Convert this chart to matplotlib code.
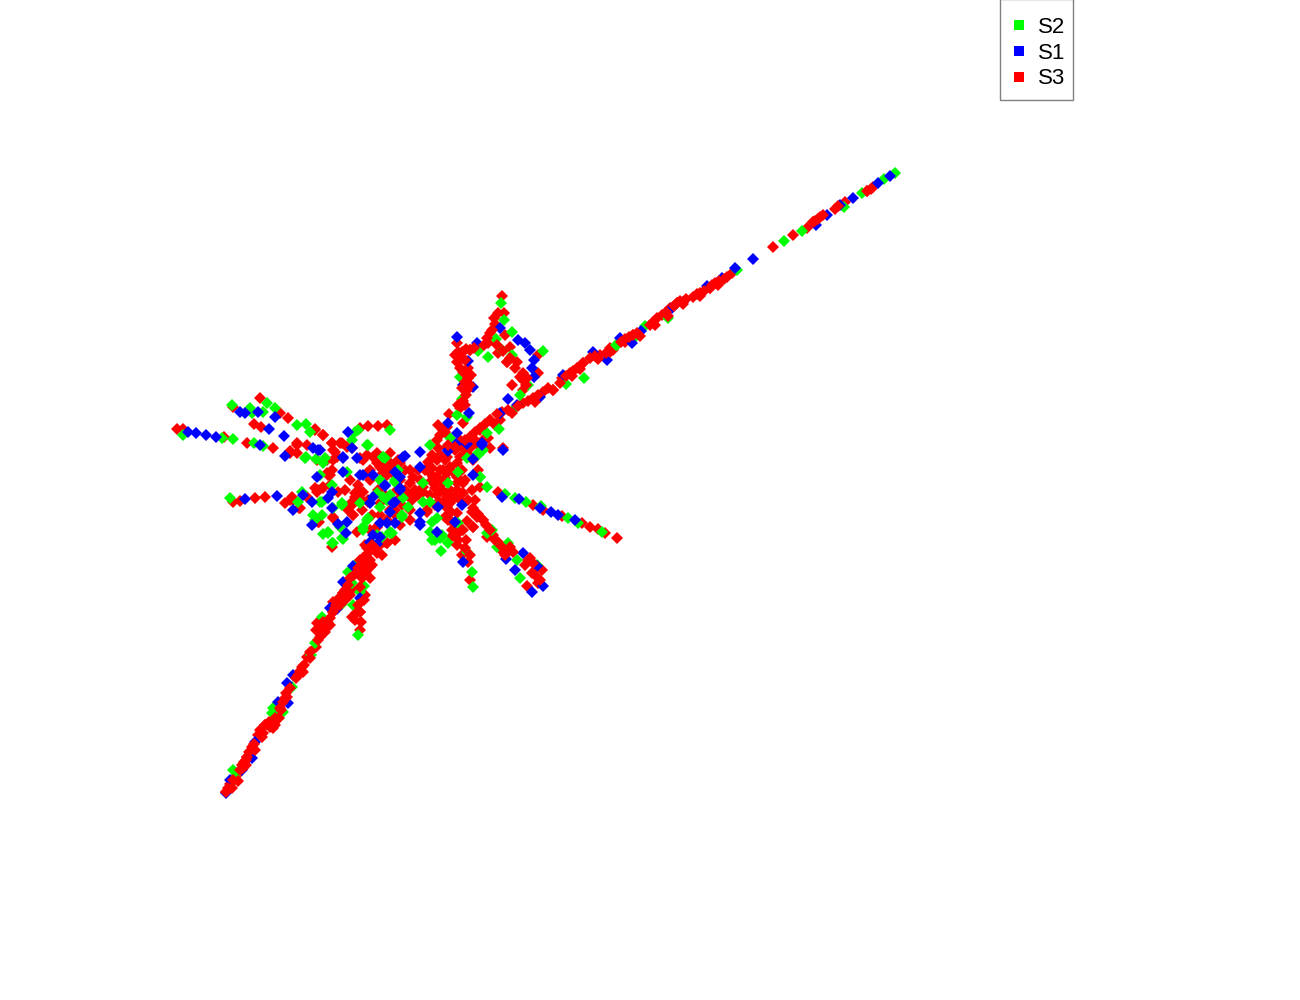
import matplotlib
matplotlib.use('Agg')
import matplotlib.pyplot as plt
from matplotlib.lines import Line2D
from matplotlib.patches import Rectangle

plt.rcParams['font.family'] = ['Liberation Sans', 'DejaVu Sans']

# values, layout units of the plot area
s3_pts = [
    (873,187),(867,191),(845,202),(835,209),(820,217),(813,222),(807,228),(793,235),(773,247),
    (732,273),(727,277),(715,283),(710,288),(700,293),(693,297),(677,303),(670,308),(662,315),
    (653,322),(633,335),(625,342),(610,348),(613,350),(600,355),(583,363),(577,368),(570,373),
    (562,378),(553,390),(543,392),(533,398),(523,403),(502,412),(490,420),(480,428),(470,437),
    (460,443),
    (502,296),(498,313),(504,313),(495,324),(490,333),(488,343),(480,347),(470,350),(462,352),
    (460,360),(468,368),(468,378),(467,390),(460,408),(465,405),(449,414),(463,423),(457,343),
    (498,353),(507,362),(517,362),(523,373),(523,380),(538,373),(538,355),(512,385),(523,390),
    (510,347),(505,335),
    (260,398),(233,407),(280,413),(254,424),(261,427),(288,418),(315,429),(323,435),(332,443),
    (342,443),(297,443),(307,445),(290,451),(297,453),(177,429),(183,429),(224,437),(247,443),
    (273,448),(368,426),(378,426),(387,425),(360,428),(333,450),(333,460),(328,475),(323,487),
    (317,492),(292,497),(293,500),(285,503),(299,508),(265,497),(255,498),(240,501),(233,502),
    (333,517),(319,522),(307,497),(338,492),(353,515),(355,497),(352,505),(360,492),(360,458),
    (352,448),(373,457),(380,467),(390,470),(397,463),(368,502),(380,503),(377,527),(387,543),
    (367,548),(377,553),(332,547),(357,532),(355,493),
    (387,463),(393,473),(413,477),(423,487),(437,477),(450,467),(443,483),(457,490),(463,493),
    (450,503),(445,517),(452,530),(458,540),(462,555),(470,580),(468,562),(427,512),(410,495),
    (387,543),(382,555),(400,480),(457,477),(473,460),(490,448),(503,448),(480,487),(390,453),
    (437,460),(430,473),(445,460),(460,457),(450,490),(437,495),
    (498,492),(533,505),(562,516),(582,523),(590,527),(598,529),(605,533),(617,538),(543,510),
    (473,508),(483,520),(493,535),(498,542),(508,550),(503,552),(528,560),(525,565),(542,570),
    (532,573),(538,583),(527,586),(467,521),(473,527),
    (226,792),(230,784),(237,775),(242,765),(247,757),(252,747),(258,735),(265,725),(273,728),
    (277,715),(283,702),(286,693),(298,675),(302,667),(307,657),(316,647),(320,637),(328,623),
    (317,623),(333,612),(333,602),(343,593),(358,573),(363,568),(370,578),(365,595),(360,612),
    (352,617),(361,622),(360,630),(352,590),(370,567),
    # left hub
    (393,467),(387,463),(400,460),(383,470),(377,463),(367,455),(347,447),(337,457),(327,473),
    (332,470),(318,490),(315,488),(357,495),(352,502),(360,498),(363,492),(387,475),(393,473),
    (397,470),(400,463),(315,430),(323,435),(332,443),(340,443),(335,452),(327,460),(330,475),
    (323,488),(330,485),(290,500),(300,508),(297,445),(290,453),(317,460),(357,493),(353,515),
    (368,500),(333,518),(318,522),(363,460),(377,453),(370,470),(383,473),(390,463),(398,460),
    (367,473),(397,490),(387,500),(377,527),(365,545),
    (350,480),(358,485),(370,480),(378,490),(385,495),(345,490),(348,510),(362,510),(372,515),
    (380,515),(370,530),(395,510),(402,505),(412,500),(418,495),(405,470),(410,470),(418,470),
    # centre
    (425,470),(432,468),(440,470),(447,473),(453,472),(445,478),(438,482),(431,481),(435,488),
    (442,490),(448,494),(455,497),(460,500),(452,498),(445,500),(440,503),(447,508),(451,512),
    (448,520),(455,524),(452,536),(458,533),(463,530),(472,512),(478,514),(465,480),(462,470),
    (455,450),(462,447),(469,442),(475,440),(447,447),(440,455),(432,455),
    (443,430),(447,427),(480,430),(457,463),(443,470),(467,453),(483,440),(447,457),(463,483),
    (447,497),(457,483),(433,477),(420,480),(423,492),(410,483),(390,463),(383,470),(393,473),
    (457,513),(450,520),(457,527),(473,527),(487,537),(447,507),(427,510),(410,510),(390,510),
    (387,520),(385,542),
    (428,462),(438,448),(460,440),(470,448),(478,445),(488,438),(495,425),(500,420),(478,470),
    (472,490),(468,500),(475,500),(435,505),(430,495),(405,490),(415,490),(400,498),(395,515),
    (400,525),(410,520),(380,545),(395,540),
]

s2_pts = [
    (895,173),(884,179),(862,193),(844,207),(802,231),(784,241),(737,270),(668,318),(645,326),
    (635,337),(617,345),(616,345),(584,378),(566,384),(520,395),(512,411),(499,429),(487,433),
    (501,303),(504,320),(512,332),(496,339),(478,351),(543,351),(502,350),(488,357),(512,355),
    (462,399),(460,377),(528,385),(467,417),(457,415),
    (232,405),(250,408),(252,413),(267,403),(275,408),(263,412),(297,425),(306,424),(310,432),
    (183,435),(222,438),(233,439),(254,443),(263,446),(306,457),(316,459),(323,463),(358,430),
    (390,430),(230,498),(320,475),(302,492),(298,502),(320,502),(313,515),(322,515),(333,508),
    (342,505),(323,534),(328,532),(333,543),(343,539),(340,527),(367,520),(363,530),(380,480),
    (377,493),(390,495),(395,482),(347,472),(352,440),(367,445),(383,457),(325,458),(390,532),
    (382,537),
    (383,457),(430,445),(478,455),(483,450),(448,483),(480,477),(487,487),(423,502),(408,507),
    (402,517),(383,497),(390,533),(432,522),(395,482),(403,498),(467,458),(458,523),
    (505,494),(515,498),(526,502),(541,506),(568,518),(578,523),(602,532),
    (487,533),(497,547),(508,543),(517,560),(520,578),(537,565),(473,587),(472,572),(467,552),
    (440,538),(432,540),(442,535),(441,551),(430,532),(448,543),
    (292,687),(322,617),(315,643),(311,655),(272,713),(283,712),(273,708),(237,773),(233,770),
    (342,604),(353,605),(352,583),(364,586),(348,572),(358,635),(355,565),(360,592),
    (355,432),(368,445),(385,458),(342,503),(332,485),(305,458),(315,520),(322,502),(328,533),
    (342,538),(363,527),(368,518),(380,507),(360,503),(332,543),(377,535),
    (450,438),(478,453),(480,477),(458,472),(430,502),(423,483),(398,470),(395,480),(387,500),
    (402,515),(437,518),(442,537),(435,540),(492,530),(392,533),(383,483),
]

s1_pts = [
    (890,176),(878,183),(853,198),(840,205),(827,215),(816,225),(753,259),(735,268),(722,278),
    (707,286),(683,302),(672,308),(641,331),(632,343),(620,338),(607,360),(593,352),(540,397),
    (508,399),(563,375),(500,413),(517,405),
    (457,337),(500,328),(518,340),(525,343),(530,350),(534,360),(532,368),(534,377),(477,343),
    (468,361),(463,385),(473,387),(469,413),(448,423),
    (275,417),(240,412),(245,413),(258,412),(269,429),(284,436),(348,432),(188,432),(196,433),
    (206,435),(216,437),(260,445),(285,456),(313,448),(320,450),(343,458),(277,496),(245,499),
    (303,495),(312,502),(293,510),(317,477),(328,498),(332,492),(312,525),(338,524),(347,522),
    (346,533),(373,535),(377,544),(357,458),(385,486),(395,502),(390,512),(395,523),(360,475),
    (373,497),(365,557),
    (385,485),(400,490),(393,503),(420,513),(473,475),(420,452),(403,457),(448,450),(456,444),
    (467,444),(482,445),(503,450),(438,507),(420,467),(400,477),
    (502,497),(519,499),(540,508),(551,512),(558,515),(575,520),
    (532,592),(515,570),(543,586),(537,566),(506,559),(523,553),(463,562),(420,522),(437,532),
    (455,522),
    (226,793),(230,780),(255,742),(293,675),(287,683),(337,609),(330,608),(353,566),(343,582),
    (288,703),(278,702),(360,598),(252,758),(242,770),
    (318,450),(352,448),(343,457),(373,475),(363,475),(332,508),(370,503),(380,523),(370,542),
    (380,537),(395,472),(343,472),
    (457,433),(448,451),(405,456),(400,488),(473,459),(482,443),(387,523),(420,525),(462,505),
]

# red marks that lie over the others along the strips
s3_top_pts = [
    (226,792),(247,757),(265,725),(283,702),(298,675),(333,612),(343,593),(360,612),
    (490,420),(470,437),
    (468,378),(467,390),(470,350),(507,362),(553,390),(583,363),(633,335),(677,303),
    (710,288),(813,222),(867,191),(483,520),
    # upper right strip
    (621,342),(629,337),(637,333),(650,325),(657,318),(666,312),(674,306),(680,301),(686,299),
    (697,294),(704,291),(712,285),(719,281),(724,279),(815,221),(818,219),(823,215),(871,189),
    (838,206),(590,358),(595,356),(606,353),(573,371),(566,376),(548,388),(538,395),(528,401),
    (518,406),(508,410),(497,414),(485,424),(475,432),(465,440),(455,447),(438,425),(440,435),
    (437,440),(445,432),(448,445),
    (625,339),(640,336),(655,325),(668,316),(683,304),(700,296),(718,285),(572,376),(580,369),
    (598,359),(610,352),(560,383),(535,402),(512,413),
    # loop
    (455,355),(457,362),(460,368),(463,372),(465,382),(462,388),(466,395),(470,385),(471,375),
    (465,360),(458,352),(466,349),(474,348),(484,345),(487,338),(492,330),(497,345),(503,351),
    (510,358),(515,368),(520,377),(527,378),(526,385),(494,318),(463,401),(458,405),
    # lower left strip
    (228,788),(233,780),(240,770),(244,762),(249,752),(254,744),(255,750),(246,760),(243,768),
    (260,730),(263,733),(269,722),(275,725),(280,708),(285,698),(281,710),(279,718),(296,678),
    (300,671),(304,665),(310,652),(318,640),(322,633),(325,628),(330,618),(335,608),(338,600),
    (345,590),(348,585),(350,578),(354,575),(358,568),(362,578),(366,572),(360,587),(364,600),
    (358,605),(356,613),(355,620),(323,622),(320,628),(336,605),(340,597),(372,565),
    (372,545),(368,553),(363,558),(375,548),(370,560),(360,560),(365,565),
    (232,788),(246,765),(238,781),(262,737),(270,727),(275,718),(287,697),(290,688),(303,672),
    (310,658),(325,632),(316,630),(330,625),(340,605),(345,600),(350,595),
    # lower arms
    (477,517),(486,525),(490,530),(495,540),(501,546),(505,555),(510,547),(513,552),(530,558),
    (533,563),(535,575),(540,580),(462,530),(466,540),(465,548),(470,555),(457,545),(455,535),
]

labels = ['S2', 'S1', 'S3']
colors = ['#00ff00', '#0000ff', '#ff0000']

fig = plt.figure(figsize=(13, 10), dpi=100)
ax = fig.add_axes([0, 0, 1, 1])

def draw(pts, color):
    x = [p[0] for p in pts]
    y = [p[1] for p in pts]
    ax.plot(x, y, ls='none', marker='D', ms=6.5, mew=0, color=color, antialiased=False)

draw(s3_pts, colors[2])
draw(s2_pts, colors[0])
draw(s1_pts, colors[1])
draw(s3_top_pts, colors[2])

ax.set_xlim(0, 1300)
ax.set_ylim(1000, 0)
ax.axis('off')

# legend box is drawn by hand, the automatic frame came out too wide
ax.add_patch(Rectangle((1000, -1), 73, 101, fc='white', ec='#808080', lw=1, zorder=4))
handles = [Line2D([], [], ls='none', marker='s', ms=7.2, mew=0, color=c) for c in colors]
leg = ax.legend(handles, labels, loc='upper left', bbox_to_anchor=(996 / 1300, 0.998),
                fontsize=16, frameon=False, borderaxespad=0, handletextpad=0.52,
                labelspacing=0.21, borderpad=0.68, handlelength=0.7)
leg.set_zorder(5)

fig.savefig('out.png', dpi=100)
